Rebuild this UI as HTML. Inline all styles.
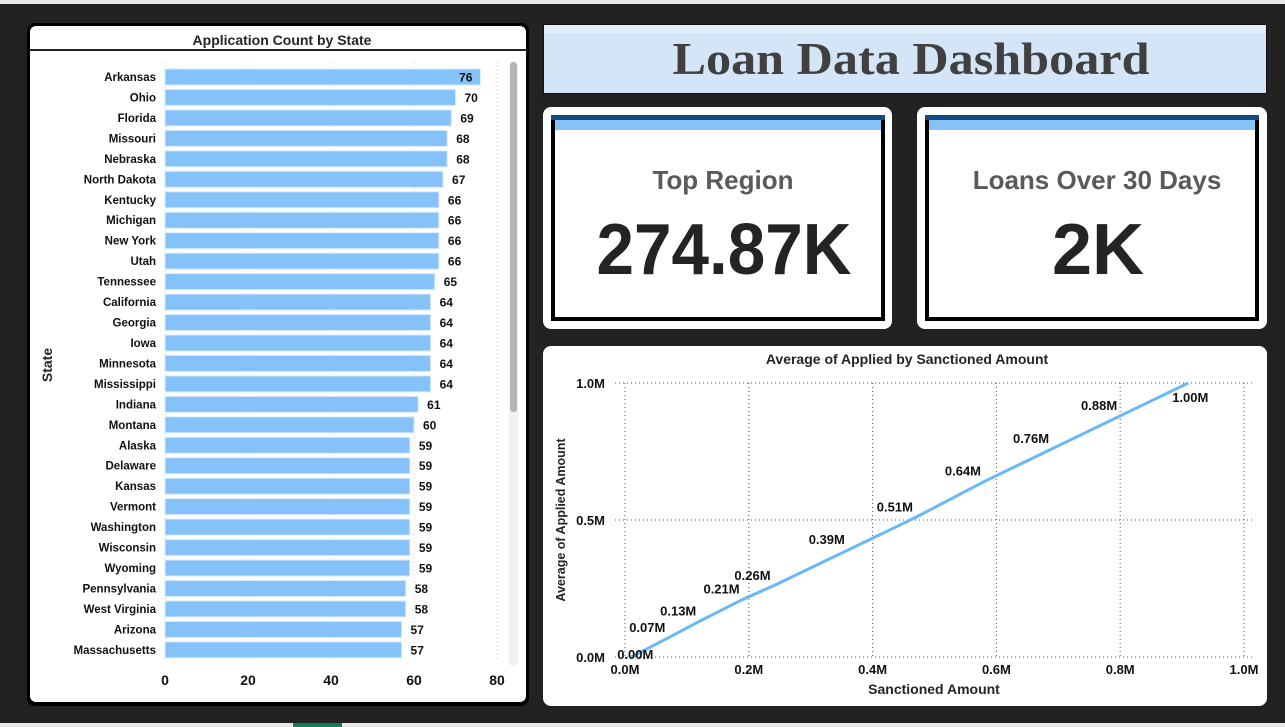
<!DOCTYPE html>
<html><head><meta charset="utf-8"><style>
html,body{margin:0;padding:0;background:#222;}
svg{display:block;font-family:"Liberation Sans",sans-serif;}
</style></head><body>
<svg id="s" width="1285" height="727" viewBox="0 0 1285 727" xmlns="http://www.w3.org/2000/svg">
<rect x="0" y="0" width="1285" height="727" fill="#222"/>
<rect x="0" y="0" width="1285" height="4" fill="#e8e8e8"/>
<rect x="0" y="723" width="1285" height="4" fill="#e8e8e8"/>
<rect x="293" y="723" width="49" height="4" fill="#1a7a5e"/>

<g>
<rect x="27" y="23" width="502" height="683" rx="8" fill="#000"/>
<rect x="30" y="26" width="496" height="676" rx="6" fill="#fff"/>
<text x="282" y="45" text-anchor="middle" font-size="14" font-weight="bold" fill="#252423">Application Count by State</text>
<rect x="30" y="49" width="496" height="2" fill="#222"/>
<text transform="translate(52,365) rotate(-90)" text-anchor="middle" font-size="14" font-weight="bold" fill="#252423">State</text>
<rect x="509" y="62" width="9" height="604" rx="4" fill="#f0f0f0"/>
<rect x="510" y="62" width="7" height="350" rx="3" fill="#b5b5b5"/>
<g id="bars"></g>
</g>

<g>
<rect x="543" y="24" width="724" height="70" fill="#111"/>
<rect x="544" y="25" width="722" height="68" fill="#d3e5f7"/>
<rect x="544" y="25" width="722" height="8" fill="#e0edfa"/>
<text x="911" y="74" text-anchor="middle" font-family="'Liberation Serif',serif" font-size="46" font-weight="bold" fill="#404040" textLength="477" lengthAdjust="spacingAndGlyphs">Loan Data Dashboard</text>
</g>

<g>
<rect x="543" y="107" width="349" height="222" rx="8" fill="#fff"/>
<rect x="551" y="115" width="334" height="206" fill="#000"/>
<rect x="555" y="119" width="326" height="198" fill="#fff"/>
<rect x="551" y="115" width="334" height="5" fill="#0f4a80"/>
<rect x="555" y="120" width="326" height="10" fill="#86c2fa"/>
<text x="723" y="189" text-anchor="middle" font-size="26" font-weight="bold" fill="#5a5a5a">Top Region</text>
<text x="724" y="274" text-anchor="middle" font-size="72" font-weight="bold" fill="#252423" textLength="255" lengthAdjust="spacingAndGlyphs">274.87K</text>
</g>
<g>
<rect x="917" y="107" width="350" height="222" rx="8" fill="#fff"/>
<rect x="925" y="115" width="334" height="206" fill="#000"/>
<rect x="929" y="119" width="326" height="198" fill="#fff"/>
<rect x="925" y="115" width="334" height="5" fill="#0f4a80"/>
<rect x="929" y="120" width="326" height="10" fill="#86c2fa"/>
<text x="1097" y="189" text-anchor="middle" font-size="26" font-weight="bold" fill="#5a5a5a">Loans Over 30 Days</text>
<text x="1098" y="274" text-anchor="middle" font-size="72" font-weight="bold" fill="#252423">2K</text>
</g>

<g>
<rect x="543" y="346" width="724" height="360" rx="8" fill="#fff"/>
<text x="907" y="364" text-anchor="middle" font-size="14" font-weight="bold" fill="#252423">Average of Applied by Sanctioned Amount</text>
<text transform="translate(565,520) rotate(-90)" text-anchor="middle" font-size="12.5" font-weight="bold" fill="#252423">Average of Applied Amount</text>
<text x="934" y="694" text-anchor="middle" font-size="14" font-weight="bold" fill="#252423">Sanctioned Amount</text>
<g id="line"></g>
</g>
</svg>
<script>
const states = ["Arkansas","Ohio","Florida","Missouri","Nebraska","North Dakota","Kentucky","Michigan","New York","Utah","Tennessee","California","Georgia","Iowa","Minnesota","Mississippi","Indiana","Montana","Alaska","Delaware","Kansas","Vermont","Washington","Wisconsin","Wyoming","Pennsylvania","West Virginia","Arizona","Massachusetts"];
const counts = [76,70,69,68,68,67,66,66,66,66,65,64,64,64,64,64,61,60,59,59,59,59,59,59,59,58,58,57,57];
const xTicks = [0,20,40,60,80];

const appliedVals = [0.00,0.07,0.13,0.21,0.26,0.39,0.51,0.64,0.76,0.88,1.00];
const sanctionedVals = [0.01,0.07,0.12,0.19,0.24,0.36,0.47,0.58,0.69,0.80,0.91];
const appliedLabels = ["0.00M","0.07M","0.13M","0.21M","0.26M","0.39M","0.51M","0.64M","0.76M","0.88M","1.00M"];
const lxTicks = [0,0.2,0.4,0.6,0.8,1.0];
const lxTickLabels = ["0.0M","0.2M","0.4M","0.6M","0.8M","1.0M"];
const lyTicks = [0,0.5,1.0];
const lyTickLabels = ["0.0M","0.5M","1.0M"];

const NS="http://www.w3.org/2000/svg";
function mk(tag,attrs,parent,text){const e=document.createElementNS(NS,tag);for(const k in attrs)e.setAttribute(k,attrs[k]);if(text!==undefined)e.textContent=text;parent.appendChild(e);return e;}

const bg=document.getElementById('bars');
const bx0=165,bx1=497,bmax=80;
const bx=v=>bx0+(v/bmax)*(bx1-bx0);
const by0=77,bstep=20.46,bh=16;
const by=i=>by0+i*bstep;
xTicks.forEach(t=>{
  const g=mk('line',{x1:bx(t),x2:bx(t),y1:62,y2:662,stroke:'#c8c8c8','stroke-dasharray':'1,3'},bg);
  
  
  const l=mk('text',{x:bx(t),y:685,'text-anchor':'middle','font-size':14,'font-weight':'bold',fill:'#111'},bg,String(t));
  
  
});
states.forEach((s,i)=>{
  const y=by(i);
  const r=mk('rect',{x:bx0,y:y-bh/2,width:bx(counts[i])-bx0,height:bh,fill:'#86c2fa',stroke:'#d8ebfd','stroke-width':1},bg);
  
  
  const l=mk('text',{x:156,y:y+4,'text-anchor':'end','font-size':11.5,'font-weight':'bold',fill:'#111'},bg,s);
  
  
  const inside = i===0;
  const v=mk('text',{x:inside?bx(counts[i])-8:bx(counts[i])+9,y:y+4.5,'text-anchor':inside?'end':'start','font-size':12,'font-weight':'bold',fill:'#111'},bg,String(counts[i]));
  
  
});

const lg=document.getElementById('line');
const lx0=625,lx1=1244,ly0=657,ly1=383;
const lx=v=>lx0+v*(lx1-lx0);
const ly=v=>ly0-v*(ly0-ly1);
lxTicks.forEach((t,i)=>{
  const g=mk('line',{x1:lx(t),x2:lx(t),y1:ly1,y2:ly0,stroke:'#555','stroke-dasharray':'1,3'},lg);
  
  
  const l=mk('text',{x:lx(t),y:674,'text-anchor':'middle','font-size':13,'font-weight':'bold',fill:'#111'},lg,lxTickLabels[i]);
  
  
});
lyTicks.forEach((t,i)=>{
  const g=mk('line',{x1:615,x2:1252,y1:ly(t),y2:ly(t),stroke:'#555','stroke-dasharray':'1,3'},lg);
  
  
  const l=mk('text',{x:605,y:ly(t)+5,'text-anchor':'end','font-size':13,'font-weight':'bold',fill:'#111'},lg,lyTickLabels[i]);
  
  
});
const pts=appliedVals.map((a,i)=>lx(sanctionedVals[i])+','+ly(a)).join(' ');
const pl=mk('polyline',{points:pts,fill:'none',stroke:'#6cb8f6','stroke-width':3},lg);


appliedVals.forEach((a,i)=>{
  const last=i===appliedVals.length-1;
  const x=lx(sanctionedVals[i]), y=ly(a);
  const t=mk('text',{x:last?x+2:x-3,y:last?y+19:y-6,'text-anchor':last?'middle':'end','font-size':13,'font-weight':'bold',fill:'#111'},lg,appliedLabels[i]);
  if(i===0){t.setAttribute('text-anchor','start');t.setAttribute('x',x-14);t.setAttribute('y',y+2);}
  
  
});
</script>
</body></html>
